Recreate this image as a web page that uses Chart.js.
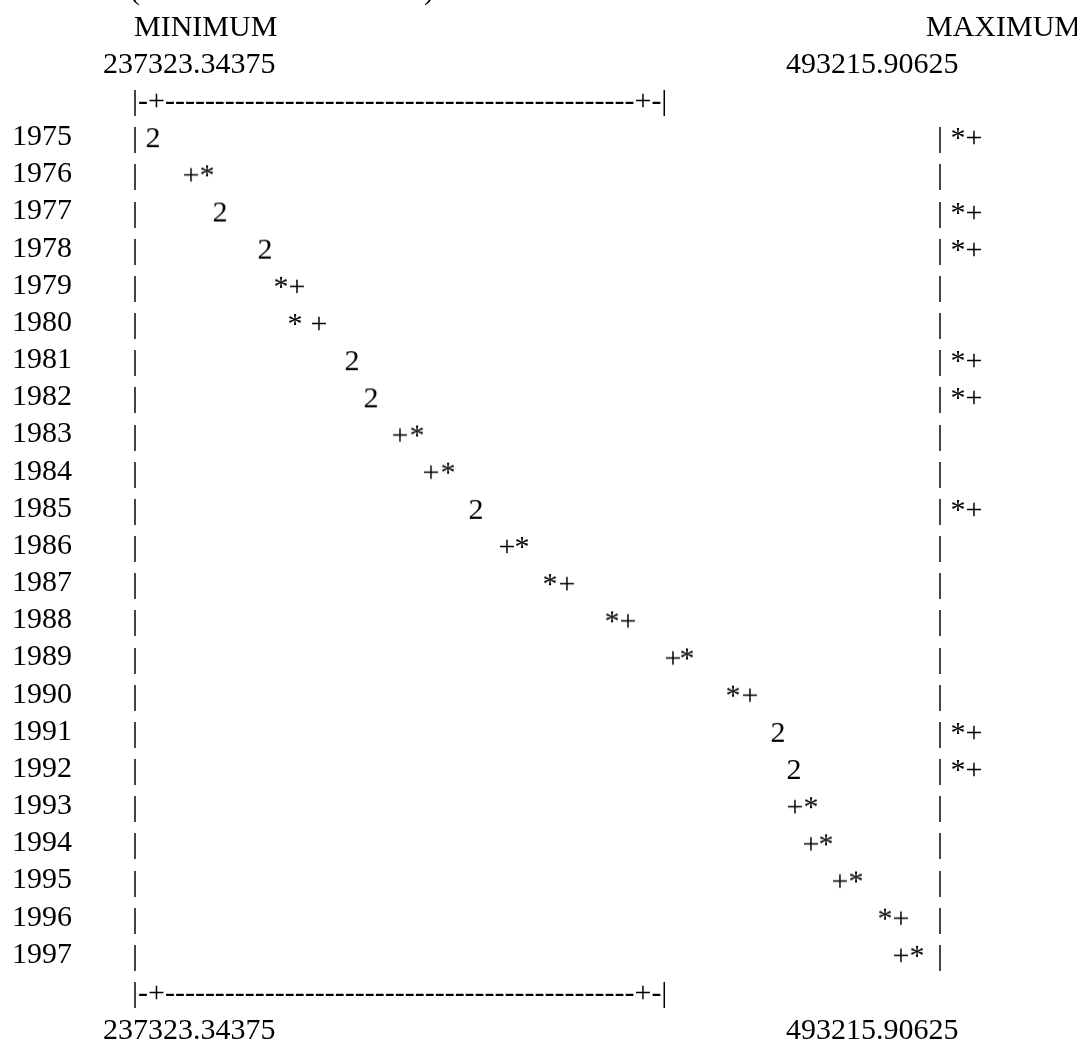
<!DOCTYPE html>
<html>
<head>
<meta charset="utf-8">
<script src="https://cdn.jsdelivr.net/npm/chart.js@4.4.0/dist/chart.umd.min.js"></script>
<style>
  html, body { margin: 0; padding: 0; background: #fff; }
</style>
</head>
<body>
<canvas id="chartPlot" width="1077" height="1039"></canvas>
<script>
var years = [1975, 1976, 1977, 1978, 1979, 1980, 1981, 1982, 1983, 1984, 1985, 1986,
             1987, 1988, 1989, 1990, 1991, 1992, 1993, 1994, 1995, 1996, 1997];
// series plotted with '*'
var starValues = [237323, 255410, 259764, 274836, 280195, 284884, 303976, 310340, 325747, 336130, 345508, 360915,
                  370293, 391060, 416180, 431587, 446659, 452018, 457712, 462736, 472784, 482498, 493216];
// series plotted with '+'
var plusValues = [237323, 250051, 259764, 274836, 285554, 292923, 303976, 310340, 320053, 330436, 345508, 355891,
                  375987, 396419, 411491, 437281, 446659, 452018, 452353, 457712, 467425, 487857, 487857];
var minLabel = '237323.34375';
var maxLabel = '493215.90625';

var FONT = '30px "Liberation Serif"';
Chart.defaults.font.family = '"Liberation Serif", "Times New Roman", serif';
Chart.defaults.font.size = 30;
Chart.defaults.color = '#000';

// character glyphs used as point styles
function glyph(ch) {
    var c = document.createElement('canvas');
    c.width = 30;
    c.height = 40;
    var g = c.getContext('2d');
    g.font = FONT;
    g.fillStyle = '#000';
    g.textAlign = 'center';
    g.textBaseline = 'alphabetic';
    g.fillText(ch, 15, 30);
    return c;
}
var glyphStar = glyph('*');
var glyphPlus = glyph('+');
var glyphBoth = glyph('2');

function same(i) { return starValues[i] === plusValues[i]; }

var framePlugin = {
    id: 'asciiFrame',
    afterDraw: function (chart) {
        var ctx = chart.ctx;
        var ys = chart.scales.y;
        function base(v) { return ys.getPixelForValue(v) + 10; }
        var axisLine = '|-+' + '-'.repeat(47) + '+-|';

        ctx.save();
        ctx.font = FONT;
        ctx.fillStyle = '#000';
        ctx.textAlign = 'left';
        ctx.textBaseline = 'alphabetic';

        ctx.fillText('(', 130, base(1971));
        ctx.fillText(')', 424, base(1971));
        ctx.fillText('MINIMUM', 134, base(1972));
        ctx.fillText('MAXIMUM', 926, base(1972));
        ctx.fillText(minLabel, 103, base(1973));
        ctx.fillText(maxLabel, 786, base(1973));
        ctx.fillText(axisLine, 132, base(1974));
        ctx.fillText(axisLine, 132, base(1998));
        ctx.fillText(minLabel, 103, base(1999));
        ctx.fillText(maxLabel, 786, base(1999));

        years.forEach(function (yr, i) {
            ctx.fillText('|', 132, base(yr));
            ctx.fillText(same(i) ? '| *+' : '|', 937, base(yr));
        });
        ctx.restore();
    }
};

new Chart(document.getElementById('chartPlot'), {
    type: 'scatter',
    data: {
        datasets: [{
            label: '*',
            data: years.map(function (yr, i) { return { x: starValues[i], y: yr }; }),
            pointStyle: function (c) { return same(c.dataIndex) ? glyphBoth : glyphStar; },
            pointRadius: 3
        }, {
            label: '+',
            data: years.map(function (yr, i) { return { x: plusValues[i], y: yr }; }),
            pointStyle: glyphPlus,
            pointRadius: function (c) { return same(c.dataIndex) ? 0 : 3; }
        }]
    },
    options: {
        responsive: false,
        animation: false,
        layout: { padding: { left: 12, right: 137, top: 100, bottom: 47 } },
        plugins: { legend: { display: false }, tooltip: { enabled: false } },
        scales: {
            x: {
                type: 'linear',
                min: 231294,
                max: 500920,
                display: false
            },
            y: {
                type: 'linear',
                min: 1974,
                max: 1998,
                reverse: true,
                grid: { display: false },
                border: { display: false },
                afterBuildTicks: function (s) {
                    s.ticks = years.map(function (yr) { return { value: yr }; });
                },
                afterFit: function (s) { s.width = 123; },
                ticks: {
                    autoSkip: false,
                    crossAlign: 'far',
                    color: '#000',
                    callback: function (v) { return String(v); }
                }
            }
        }
    },
    plugins: [framePlugin]
});
</script>
</body>
</html>
